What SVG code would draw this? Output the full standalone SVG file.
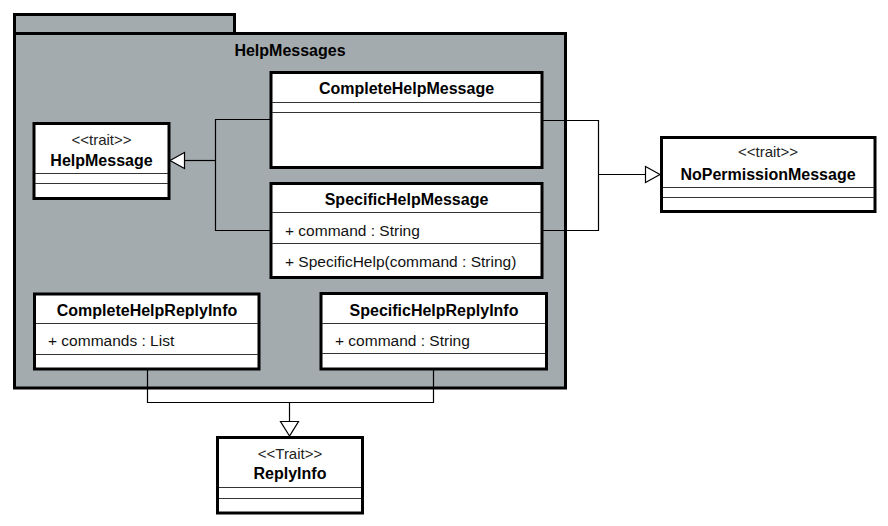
<svg xmlns="http://www.w3.org/2000/svg" width="888" height="526" viewBox="0 0 888 526">
<style>
.pkg{fill:#a3abae;stroke:#000;stroke-width:3}
.box{fill:#fff;stroke:#000;stroke-width:3}
.sep{stroke:#333;stroke-width:1;fill:none}
.con{stroke:#000;stroke-width:1.2;fill:none}
.tri{fill:#fff;stroke:#000;stroke-width:1.2}
.name{font-family:"Liberation Sans",Arial,sans-serif;font-weight:bold;font-size:16px;fill:#000;text-anchor:middle}
.ster{font-family:"Liberation Sans",Arial,sans-serif;font-size:15px;fill:#222;text-anchor:middle}
.attr{font-family:"Liberation Sans",Arial,sans-serif;font-size:15.5px;fill:#111}
</style>
<rect width="888" height="526" fill="#fff"/>
<g id="pkg-HelpMessages">
<rect class="pkg" x="14.5" y="14.5" width="220" height="19"/>
<rect class="pkg" x="14.5" y="33.5" width="551" height="354.5"/>
<text class="name" x="290" y="56">HelpMessages</text>
</g>
<g id="connectors">
<polyline class="con" points="271,119.5 215.5,119.5 215.5,230.5 271,230.5"/>
<line class="con" x1="215.5" y1="160.5" x2="184" y2="160.5"/>
<polygon class="tri" points="170,160.5 184.5,152.5 184.5,168.5"/>
<polyline class="con" points="542,120.5 598.5,120.5 598.5,230.5 542,230.5"/>
<line class="con" x1="598.5" y1="174.5" x2="645" y2="174.5"/>
<polygon class="tri" points="660,174.5 645.5,166.5 645.5,182.5"/>
<polyline class="con" points="147.5,369 147.5,402.5 433.5,402.5 433.5,369"/>
<line class="con" x1="289.5" y1="402.5" x2="289.5" y2="422"/>
<polygon class="tri" points="289.5,436 280.5,421.5 298.5,421.5"/>
</g>
<g id="HelpMessage">
<rect class="box" x="34" y="123.5" width="135" height="75"/>
<text class="ster" x="101.5" y="145">&lt;&lt;trait&gt;&gt;</text>
<text class="name" x="101.5" y="166">HelpMessage</text>
<line class="sep" x1="35" y1="173.5" x2="168" y2="173.5"/>
<line class="sep" x1="35" y1="183.5" x2="168" y2="183.5"/>
</g>
<g id="CompleteHelpMessage">
<rect class="box" x="271" y="72.5" width="271" height="95"/>
<text class="name" x="406.5" y="94">CompleteHelpMessage</text>
<line class="sep" x1="272" y1="102.5" x2="541" y2="102.5"/>
<line class="sep" x1="272" y1="112.5" x2="541" y2="112.5"/>
</g>
<g id="SpecificHelpMessage">
<rect class="box" x="271" y="183.5" width="271" height="94"/>
<text class="name" x="406.5" y="205">SpecificHelpMessage</text>
<line class="sep" x1="272" y1="212.5" x2="541" y2="212.5"/>
<text class="attr" x="285" y="236">+ command : String</text>
<line class="sep" x1="272" y1="243.5" x2="541" y2="243.5"/>
<text class="attr" x="285" y="267">+ SpecificHelp(command : String)</text>
</g>
<g id="NoPermissionMessage">
<rect class="box" x="661.5" y="137.5" width="213.5" height="74"/>
<text class="ster" x="768" y="157">&lt;&lt;trait&gt;&gt;</text>
<text class="name" x="768" y="180">NoPermissionMessage</text>
<line class="sep" x1="663" y1="187.5" x2="874" y2="187.5"/>
<line class="sep" x1="663" y1="197.5" x2="874" y2="197.5"/>
</g>
<g id="CompleteHelpReplyInfo">
<rect class="box" x="34.5" y="294" width="224.5" height="75"/>
<text class="name" x="147" y="316">CompleteHelpReplyInfo</text>
<line class="sep" x1="36" y1="323.5" x2="258" y2="323.5"/>
<text class="attr" x="48" y="346">+ commands : List</text>
<line class="sep" x1="36" y1="354.5" x2="258" y2="354.5"/>
</g>
<g id="SpecificHelpReplyInfo">
<rect class="box" x="321" y="293.5" width="225.5" height="75.5"/>
<text class="name" x="434" y="316">SpecificHelpReplyInfo</text>
<line class="sep" x1="322" y1="323.5" x2="545" y2="323.5"/>
<text class="attr" x="335" y="346">+ command : String</text>
<line class="sep" x1="322" y1="353.5" x2="545" y2="353.5"/>
</g>
<g id="ReplyInfo">
<rect class="box" x="217.5" y="437.5" width="145" height="75.5"/>
<text class="ster" x="290" y="459">&lt;&lt;Trait&gt;&gt;</text>
<text class="name" x="290" y="479">ReplyInfo</text>
<line class="sep" x1="219" y1="487.5" x2="361" y2="487.5"/>
<line class="sep" x1="219" y1="498.5" x2="361" y2="498.5"/>
</g>
</svg>
